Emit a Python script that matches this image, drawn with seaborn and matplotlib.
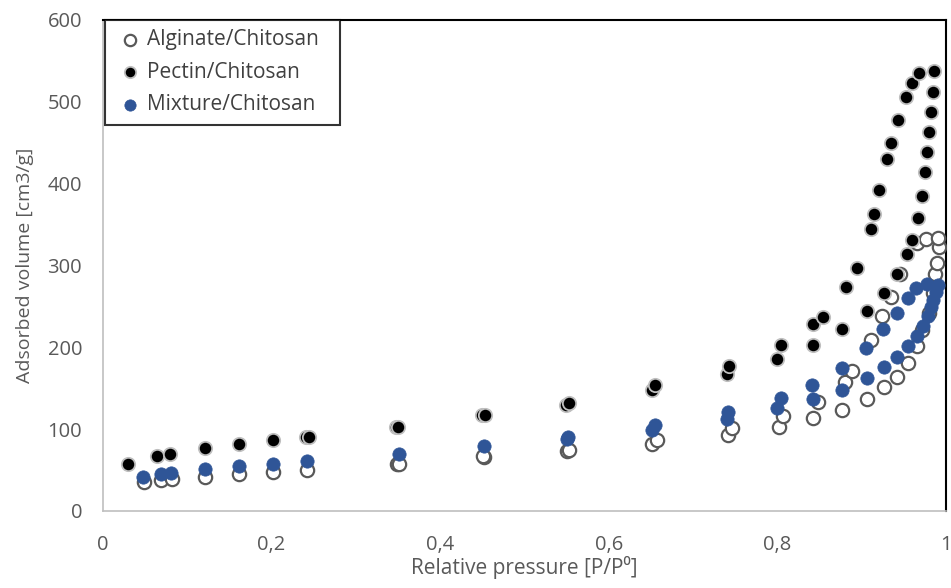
import numpy as np
import pandas as pd
import matplotlib
matplotlib.use("Agg")
import matplotlib.pyplot as plt
import seaborn as sns
from matplotlib.ticker import FuncFormatter

# ---- data ----
alg_x = [0.049, 0.069, 0.082, 0.121, 0.161, 0.202, 0.242, 0.349, 0.351, 0.452, 0.451,
         0.550, 0.553, 0.651, 0.657, 0.741, 0.746, 0.802, 0.807, 0.842, 0.848, 0.877,
         0.880, 0.889, 0.906, 0.911, 0.926, 0.924, 0.942, 0.935, 0.955, 0.945, 0.966,
         0.966, 0.971, 0.976, 0.980, 0.985, 0.987, 0.989, 0.992, 0.991]
alg_y = [35, 38, 39, 42, 45, 48, 50, 57, 58, 66, 67, 73, 75, 82, 87, 93, 101, 103, 116,
         114, 133, 124, 158, 171, 137, 209, 151, 238, 164, 262, 181, 290, 202, 328, 221,
         332, 242, 266, 290, 303, 322, 333]

pec_x = [0.030, 0.064, 0.080, 0.121, 0.161, 0.202, 0.241, 0.244, 0.347, 0.350, 0.450,
         0.453, 0.549, 0.553, 0.651, 0.655, 0.740, 0.743, 0.800, 0.804, 0.842, 0.842,
         0.854, 0.877, 0.881, 0.894, 0.906, 0.911, 0.915, 0.920, 0.926, 0.930, 0.935,
         0.942, 0.943, 0.953, 0.954, 0.960, 0.960, 0.967, 0.968, 0.972, 0.975, 0.977,
         0.980, 0.982, 0.985, 0.986]
pec_y = [57, 67, 70, 77, 82, 87, 90, 90, 103, 103, 117, 117, 130, 132, 148, 154, 167,
         177, 186, 203, 203, 228, 237, 222, 274, 297, 244, 344, 363, 392, 266, 430, 450,
         289, 478, 506, 314, 523, 331, 358, 535, 385, 414, 439, 463, 488, 512, 538]

mix_x = [0.047, 0.069, 0.081, 0.121, 0.161, 0.202, 0.242, 0.351, 0.452, 0.550, 0.552,
         0.651, 0.655, 0.740, 0.741, 0.800, 0.804, 0.841, 0.842, 0.877, 0.877, 0.905,
         0.906, 0.925, 0.926, 0.942, 0.942, 0.955, 0.955, 0.964, 0.966, 0.973, 0.977,
         0.979, 0.982, 0.985, 0.988, 0.991]
mix_y = [42, 45, 47, 51, 55, 58, 61, 70, 79, 88, 90, 99, 105, 113, 121, 126, 138, 154,
         137, 175, 148, 199, 163, 222, 176, 242, 188, 260, 201, 272, 214, 226, 277, 238,
         249, 258, 267, 276]

x_ticks = [0, 0.2, 0.4, 0.6, 0.8, 1.0]
y_ticks = [0, 100, 200, 300, 400, 500, 600]

df = pd.concat([
    pd.DataFrame({"p": alg_x, "v": alg_y, "s": "Alginate/Chitosan"}),
    pd.DataFrame({"p": pec_x, "v": pec_y, "s": "Pectin/Chitosan"}),
    pd.DataFrame({"p": mix_x, "v": mix_y, "s": "Mixture/Chitosan"}),
])

sns.set_theme(style="white")
plt.rcParams["font.family"] = ["Open Sans", "DejaVu Sans"]

fig = plt.figure(figsize=(9.51, 5.88), dpi=100)
ax = fig.add_axes([0.1083, 0.131, 0.8864, 0.835])

gray = "#595959"
styles = {
    "Alginate/Chitosan": dict(facecolor="white", edgecolor=gray, linewidth=1.6),
    "Pectin/Chitosan": dict(facecolor="black", edgecolor="#bfbfbf", linewidth=1.3),
    "Mixture/Chitosan": dict(facecolor="#2f5597", edgecolor="#2f5597", linewidth=0.5),
}
for name, st in styles.items():
    sub = df[df["s"] == name]
    sns.scatterplot(data=sub, x="p", y="v", ax=ax, s=92, marker="o",
                    color=st["facecolor"], edgecolor=st["edgecolor"],
                    linewidth=st["linewidth"], label=name, zorder=3)

ax.set_xlim(0, 1)
ax.set_ylim(0, 600)
ax.set_xticks(x_ticks)
ax.set_yticks(y_ticks)
ax.xaxis.set_major_formatter(FuncFormatter(
    lambda v, p: "0" if v == 0 else ("1" if abs(v - 1) < 1e-9 else f"{v:.1f}".replace(".", ","))))
ax.tick_params(axis="both", length=0, labelsize=14.5, labelcolor=gray)
ax.tick_params(axis="x", pad=17)
ax.tick_params(axis="y", pad=15)
ax.set_xlabel("Relative pressure [P/P⁰]", fontsize=15, color=gray, labelpad=1)
ax.set_ylabel("Adsorbed volume [cm3/g]", fontsize=14, color=gray, labelpad=10)
ax.grid(False)

for side in ["left", "bottom"]:
    ax.spines[side].set_color("#bfbfbf")
    ax.spines[side].set_linewidth(1.2)
for side in ["top", "right"]:
    ax.spines[side].set_color("black")
    ax.spines[side].set_linewidth(1.5)

leg = ax.legend(loc="upper left", bbox_to_anchor=(0.0024, 0.0, 0.279, 1.0),
                mode="expand", frameon=True, fancybox=False, fontsize=15,
                handletextpad=0.05, borderpad=0.45, labelspacing=0.55,
                handlelength=1.5, markerscale=0.85, borderaxespad=0.0)
leg.get_frame().set_edgecolor("black")
leg.get_frame().set_linewidth(1.5)
for t in leg.get_texts():
    t.set_color("#404040")

fig.savefig("out.png", dpi=100)
